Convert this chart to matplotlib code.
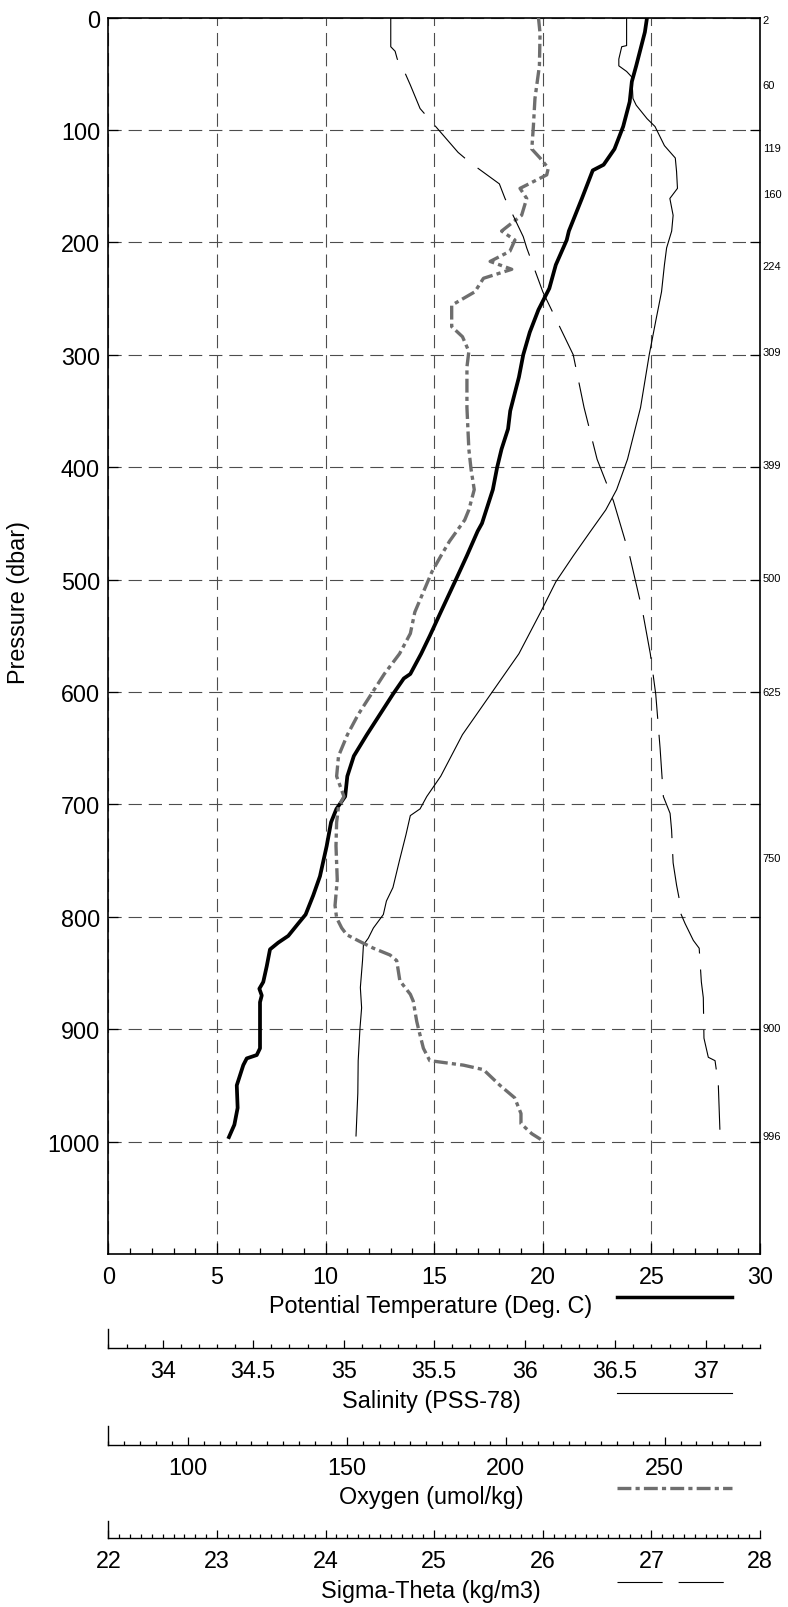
import matplotlib
matplotlib.use('Agg')
import matplotlib.pyplot as plt
from matplotlib.ticker import MultipleLocator, FuncFormatter
from matplotlib.lines import Line2D
import matplotlib.transforms as mtransforms

plt.rcParams['font.family'] = ['Liberation Sans', 'DejaVu Sans']
plt.rcParams['lines.scale_dashes'] = False

# ---- profile data (pressure in dbar) ----
temp_p = [0, 13, 43, 57, 75, 97, 117, 131, 136, 161, 190, 198, 220, 241, 260, 280,
          300, 320, 350, 366, 384, 400, 420, 450, 457, 479, 500, 529, 550, 566, 584,
          588, 602, 620, 638, 657, 675, 693, 704, 716, 737, 764, 781, 798, 806, 817,
          823, 829, 844, 858, 864, 870, 876, 917, 923, 926, 932, 950, 970, 985, 996]
temp = [24.8, 24.7, 24.3, 24.1, 24.0, 23.7, 23.3, 22.8, 22.3, 21.8, 21.2, 21.1, 20.6,
        20.3, 19.8, 19.4, 19.1, 18.9, 18.5, 18.4, 18.1, 17.9, 17.7, 17.2, 17.0, 16.5,
        16.0, 15.3, 14.8, 14.4, 13.9, 13.6, 13.1, 12.5, 11.9, 11.3, 11.0, 10.9, 10.5,
        10.25, 10.05, 9.74, 9.43, 9.08, 8.74, 8.28, 7.82, 7.44, 7.29, 7.13, 6.95, 7.06,
        6.98, 6.98, 6.83, 6.37, 6.21, 5.91, 5.95, 5.8, 5.55]

sal_p = [0, 25, 26, 37, 43, 48, 53, 72, 78, 90, 97, 114, 125, 137, 152, 161, 176, 190,
         205, 220, 244, 270, 300, 347, 393, 420, 438, 457, 479, 502, 529, 566, 602,
         638, 675, 693, 704, 710, 727, 750, 774, 786, 798, 810, 819, 825, 839, 863,
         881, 899, 928, 957, 995]
sal = [36.563, 36.563, 36.536, 36.52, 36.52, 36.563, 36.592, 36.598, 36.616, 36.676,
       36.72, 36.772, 36.832, 36.839, 36.844, 36.802, 36.82, 36.812, 36.784, 36.772,
       36.756, 36.724, 36.688, 36.64, 36.568, 36.508, 36.448, 36.364, 36.268, 36.172,
       36.088, 35.968, 35.812, 35.656, 35.536, 35.459, 35.422, 35.368, 35.344, 35.308,
       35.272, 35.236, 35.219, 35.164, 35.136, 35.109, 35.104, 35.092, 35.099, 35.09,
       35.08, 35.078, 35.068]

oxy_p = [0, 14, 43, 72, 97, 117, 125, 134, 140, 146, 152, 161, 176, 190, 198, 208, 217,
         224, 232, 244, 256, 275, 284, 297, 311, 347, 384, 402, 420, 438, 447, 466, 479,
         493, 511, 529, 548, 566, 584, 602, 620, 638, 657, 675, 693, 702, 716, 737, 767,
         790, 801, 810, 816, 822, 828, 834, 839, 857, 869, 875, 893, 899, 917, 928, 932,
         936, 950, 961, 975, 984, 993, 998]
oxy = [210.3, 210.8, 210.6, 209.2, 208.7, 208.2, 210.8, 213.4, 212.9, 208.7, 204.5,
       206.6, 205.0, 198.7, 202.9, 201.3, 195.1, 201.9, 193.0, 190.3, 183.0, 183.0,
       186.4, 188.4, 187.8, 187.8, 188.4, 189.1, 190.1, 188.4, 187.1, 182.3, 179.6,
       176.8, 174.1, 171.4, 170.0, 166.6, 161.8, 157.7, 153.6, 150.2, 147.4, 146.8,
       149.1, 147.4, 146.8, 146.6, 147.0, 146.3, 146.8, 148.4, 150.0, 154.1, 158.4,
       163.6, 165.7, 166.7, 170.0, 170.9, 172.0, 172.5, 174.1, 176.1, 186.7, 193.0,
       198.2, 202.8, 204.8, 204.8, 208.2, 211.0]

sig_p = [0, 26, 30, 37, 46, 60, 81, 93, 120, 129, 148, 161, 195, 205, 244, 256, 300,
         347, 393, 430, 479, 529, 566, 602, 650, 693, 708, 723, 752, 772, 786, 797, 806,
         821, 828, 840, 858, 872, 908, 925, 928, 949, 993]
sig = [24.60, 24.60, 24.64, 24.66, 24.716, 24.78, 24.87, 24.978, 25.22, 25.33, 25.60,
       25.652, 25.82, 25.852, 26.0, 26.06, 26.28, 26.38, 26.5, 26.65, 26.8, 26.92,
       26.99, 27.04, 27.08, 27.11, 27.172, 27.186, 27.20, 27.232, 27.26, 27.27, 27.31,
       27.386, 27.44, 27.448, 27.46, 27.478, 27.484, 27.524, 27.586, 27.616, 27.632]

bottle_p = [2, 60, 116, 157, 221, 298, 398, 499, 600, 748, 899, 995]
bottle_lbl = ['2', '60', '119', '160', '224', '309', '399', '500', '625', '750', '900', '996']

# ---- layout in pixels ----
W, H = 788, 1608
L, R, T, B = 108.4, 760, 18.5, 1255
GRAY = '#6e6e6e'
FS = 16.8


def fx(px):
    return px / W


def fy(py):
    return 1 - py / H


fig = plt.figure(figsize=(W / 100, H / 100), dpi=100)
ax = fig.add_axes([fx(L), fy(B), (R - L) / W, (B - T) / H])

ax.set_xlim(0, 30)
ax.set_ylim(1100, 0)
ax.xaxis.set_major_locator(MultipleLocator(5))
ax.xaxis.set_minor_locator(MultipleLocator(1))
ax.set_yticks(range(0, 1001, 100))
ax.tick_params(axis='x', which='both', direction='in', top=True, bottom=True,
               labelsize=FS, pad=8.0)
ax.tick_params(axis='x', which='major', length=8, width=0.9)
ax.tick_params(axis='x', which='minor', length=4.5, width=0.9)
ax.tick_params(axis='y', which='major', direction='in', left=True, right=True,
               length=7, width=0.9, labelsize=FS, pad=6)
ax.grid(True, which='major', color='#4d4d4d', linestyle=(0, (9.5, 5)), linewidth=0.8)
for s in ax.spines.values():
    s.set_linewidth(1.2)

ax.plot(temp, temp_p, color='black', lw=2.7, solid_joinstyle='round', zorder=5)

ax_s = ax.twiny()
ax_s.set_xlim(33.7, 37.3)
ax_s.plot(sal, sal_p, color='black', lw=0.8, zorder=4)

ax_o = ax.twiny()
ax_o.set_xlim(75, 280)
ax_o.plot(oxy, oxy_p, color=GRAY, lw=2.4, linestyle=(0, (10, 3, 3, 3)),
          dash_capstyle='butt', zorder=3)

ax_g = ax.twiny()
ax_g.set_xlim(22, 28)
ax_g.plot(sig, sig_p, color='black', lw=0.8, linestyle=(0, (32, 11.5)), zorder=4)

for a in (ax_s, ax_o, ax_g):
    a.set_ylim(1100, 0)
    a.axis('off')

# bottle labels on the right
trans = mtransforms.blended_transform_factory(ax.transAxes, ax.transData)
for p, lbl in zip(bottle_p, bottle_lbl):
    ax.text(1.004, p, lbl, transform=trans, ha='left', va='center', fontsize=8)

fig.text(fx(18.5), fy(603), 'Pressure (dbar)', rotation=90, ha='center', va='center',
         fontsize=FS)


def fmt(v, pos):
    return '%g' % v


def extra_axis(y_line, y_top, lo, hi, major, minor):
    a = fig.add_axes([fx(L), fy(y_line), (R - L) / W, (y_line - y_top) / H])
    a.set_xlim(lo, hi)
    a.patch.set_visible(False)
    a.spines['top'].set_visible(False)
    a.spines['right'].set_visible(False)
    a.spines['left'].set_linewidth(1.0)
    a.spines['bottom'].set_linewidth(1.0)
    a.set_yticks([])
    a.xaxis.set_major_locator(MultipleLocator(major))
    a.xaxis.set_minor_locator(MultipleLocator(minor))
    a.xaxis.set_major_formatter(FuncFormatter(fmt))
    a.tick_params(axis='x', which='both', direction='in', labelsize=FS, pad=8.0, width=0.9)
    a.tick_params(axis='x', which='major', length=6)
    a.tick_params(axis='x', which='minor', length=3)
    return a


extra_axis(1348.7, 1330, 33.7, 37.3, 0.5, 0.1)
extra_axis(1445.7, 1427, 75, 280, 50, 5)
extra_axis(1539, 1522, 22, 28, 1, 0.1)

# axis titles
titles = [('Potential Temperature (Deg. C)', 1307),
          ('Salinity (PSS-78)', 1402),
          ('Oxygen (umol/kg)', 1498),
          ('Sigma-Theta (kg/m3)', 1592)]
for txt, yy in titles:
    fig.text(fx(431), fy(yy), txt, ha='center', va='center', fontsize=FS)

# legend samples
x0, x1 = fx(617), fx(732)
fig.add_artist(Line2D([x0, x1], [fy(1298), fy(1298)], color='black', lw=2.5))
fig.add_artist(Line2D([x0, x1], [fy(1394), fy(1394)], color='black', lw=0.8))
fig.add_artist(Line2D([x0, x1], [fy(1489), fy(1489)], color=GRAY, lw=2.4,
                      linestyle=(0, (10, 3, 3, 3))))
fig.add_artist(Line2D([x0, fx(724)], [fy(1583), fy(1583)], color='black', lw=0.8,
                      linestyle=(0, (32.5, 11.5))))

fig.savefig('out.png', dpi=100)
